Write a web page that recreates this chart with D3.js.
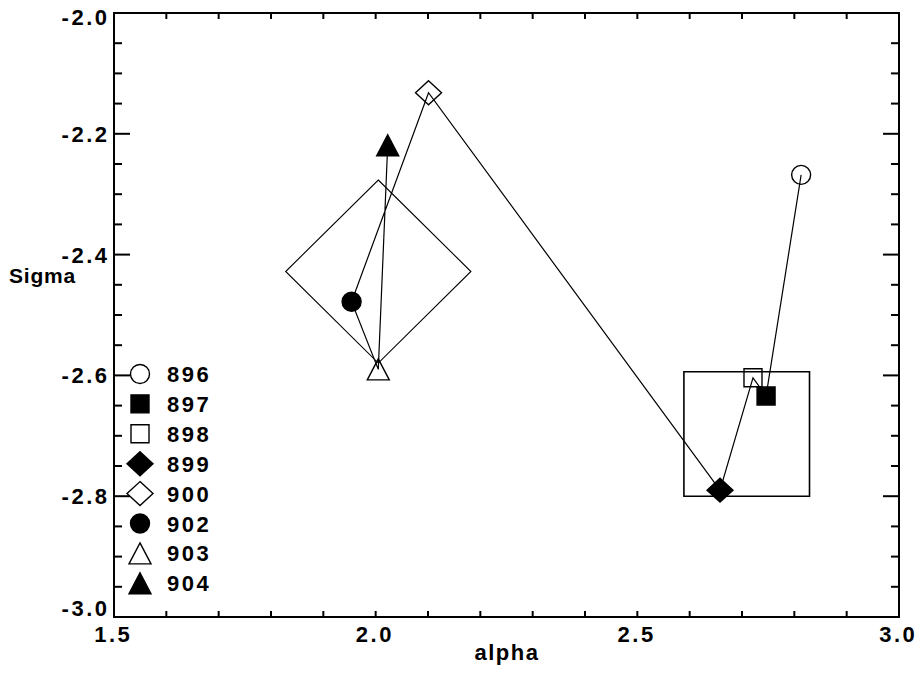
<!DOCTYPE html>
<html>
<head>
<meta charset="utf-8">
<script src="https://cdn.jsdelivr.net/npm/d3@7"></script>
<style>
  html, body { margin: 0; padding: 0; background: #fff; }
  svg { display: block; }
  text { font-family: "Liberation Sans", Arial, sans-serif; font-weight: bold; fill: #000; }
</style>
</head>
<body>
<svg id="chart" width="920" height="677"></svg>
<script>
// Run identifiers and their fitted (alpha, Sigma) pairs, in run order
const runIds   = ["896", "897", "898", "899", "900", "902", "903", "904"];
const alphaVals = [2.813, 2.746, 2.721, 2.658, 2.101, 1.954, 2.005, 2.023];
const sigmaVals = [-2.268, -2.634, -2.604, -2.790, -2.132, -2.478, -2.590, -2.219];

// Marker used for each run
const runSymbol = ["circle", "square", "square", "diamond", "diamond", "circle", "triangle", "triangle"];
const runFilled = [false, true, false, true, false, true, false, true];

// Group summaries: centre and spread in each direction
const groupShape = ["diamond", "square"];
const groupAlpha = [2.005, 2.709];
const groupSigma = [-2.428, -2.697];
const groupAlphaSpread = [0.177, 0.12];
const groupSigmaSpread = [0.1515, 0.103];

// Axis ticks
const xTickValues = [1.5, 2.0, 2.5, 3.0];
const xTickLabels = ["1.5", "2.0", "2.5", "3.0"];
const yTickValues = [-2.0, -2.2, -2.4, -2.6, -2.8, -3.0];
const yTickLabels = ["-2.0", "-2.2", "-2.4", "-2.6", "-2.8", "-3.0"];

(function draw() {
  const svg = d3.select("#chart");
  const pLeft = 114, pRight = 899, pTop = 13, pBottom = 617;

  const x = d3.scaleLinear().domain([1.5, 3.0]).range([pLeft, pRight]);
  const y = d3.scaleLinear().domain([-2.0, -3.0]).range([pTop, pBottom]);

  // Frame
  svg.append("rect")
    .attr("x", pLeft).attr("y", pTop)
    .attr("width", pRight - pLeft).attr("height", pBottom - pTop)
    .attr("fill", "none").attr("stroke", "#000").attr("stroke-width", 2);

  // Minor/major ticks on all four sides
  const xMinor = d3.range(16).map(i => 1.5 + i * 0.1);
  const yMinor = d3.range(21).map(i => -2.0 - i * 0.05);
  const isMajorY = v => Math.abs(Math.round(v * 5) - v * 5) < 1e-6;

  const ticks = svg.append("g").attr("stroke", "#000").attr("stroke-width", 2);
  xMinor.forEach(v => {
    ticks.append("line").attr("x1", x(v)).attr("x2", x(v)).attr("y1", pBottom).attr("y2", pBottom - 6);
    ticks.append("line").attr("x1", x(v)).attr("x2", x(v)).attr("y1", pTop).attr("y2", pTop + 6);
  });
  yMinor.forEach(v => {
    const len = isMajorY(v) ? 16 : 8;
    ticks.append("line").attr("y1", y(v)).attr("y2", y(v)).attr("x1", pLeft).attr("x2", pLeft + len);
    ticks.append("line").attr("y1", y(v)).attr("y2", y(v)).attr("x1", pRight).attr("x2", pRight - len);
  });

  // Tick labels
  const ls = 2.5;
  svg.append("g").selectAll("text").data(xTickValues).join("text")
    .attr("x", d => x(d) + ls / 2 - 2)
    .attr("y", 642)
    .attr("text-anchor", "middle")
    .attr("font-size", 22)
    .attr("letter-spacing", ls)
    .text((d, i) => xTickLabels[i]);

  // End labels are pulled inward so they stay within the frame's height
  const yLabelBaseline = (d, i) => {
    const base = y(d) + 8;
    if (i === 0) return base + 4;
    if (i === yTickValues.length - 1) return base - 9;
    return base;
  };
  svg.append("g").selectAll("text").data(yTickValues).join("text")
    .attr("x", 107 + ls)
    .attr("y", yLabelBaseline)
    .attr("text-anchor", "end")
    .attr("font-size", 22)
    .attr("letter-spacing", ls)
    .text((d, i) => yTickLabels[i]);

  // Axis titles
  svg.append("text").attr("x", 507).attr("y", 660).attr("text-anchor", "middle")
    .attr("font-size", 22).attr("letter-spacing", 1.5).text("alpha");
  svg.append("text").attr("x", 9).attr("y", 283).attr("text-anchor", "start")
    .attr("font-size", 21).attr("letter-spacing", 0.8).text("Sigma");

  // Group summary shapes, drawn in data units
  const groups = groupShape.map((s, i) => ({
    shape: s, a: groupAlpha[i], s0: groupSigma[i],
    da: groupAlphaSpread[i], ds: groupSigmaSpread[i]
  }));
  svg.append("g").selectAll("path").data(groups).join("path")
    .attr("fill", "none").attr("stroke", "#000")
    .attr("stroke-width", d => d.shape === "square" ? 1.6 : 1.1)
    .attr("d", d => {
      const cx = x(d.a), cy = y(d.s0);
      const hx = x(d.a + d.da) - cx, hy = y(d.s0 - d.ds) - cy;
      if (d.shape === "square") {
        return `M${cx - hx},${cy - hy}H${cx + hx}V${cy + hy}H${cx - hx}Z`;
      }
      return `M${cx},${cy - hy}L${cx + hx},${cy}L${cx},${cy + hy}L${cx - hx},${cy}Z`;
    });

  // Trajectory through the runs
  const runs = runIds.map((id, i) => ({
    id, a: alphaVals[i], s: sigmaVals[i], sym: runSymbol[i], filled: runFilled[i]
  }));
  svg.append("path").datum(runs)
    .attr("fill", "none").attr("stroke", "#000").attr("stroke-width", 1.2)
    .attr("d", d3.line().x(d => x(d.a)).y(d => y(d.s)));

  // Marker outlines centred on a point
  function markerPath(sym, cx, cy) {
    switch (sym) {
      case "circle": {
        const r = 9.5;
        return `M${cx + r},${cy}A${r},${r} 0 1,1 ${cx - r},${cy}A${r},${r} 0 1,1 ${cx + r},${cy}Z`;
      }
      case "square": {
        const h = 9;
        return `M${cx - h},${cy - h}H${cx + h}V${cy + h}H${cx - h}Z`;
      }
      case "diamond": {
        const w = 13, h = 12;
        return `M${cx},${cy - h}L${cx + w},${cy}L${cx},${cy + h}L${cx - w},${cy}Z`;
      }
      case "triangle": {
        const w = 11, h = 10.5;
        return `M${cx},${cy - h}L${cx + w},${cy + h}L${cx - w},${cy + h}Z`;
      }
    }
  }

  svg.append("g").selectAll("path").data(runs).join("path")
    .attr("d", d => markerPath(d.sym, x(d.a), y(d.s)))
    .attr("fill", d => d.filled ? "#000" : "none")
    .attr("stroke", "#000").attr("stroke-width", 1.4);

  // Legend
  const legX = 140, legY0 = 374, legStep = 29.9;
  const leg = svg.append("g").selectAll("g").data(runs).join("g");
  leg.append("path")
    .attr("d", (d, i) => markerPath(d.sym, legX, legY0 + i * legStep))
    .attr("fill", d => d.filled ? "#000" : "#fff")
    .attr("stroke", "#000").attr("stroke-width", 1.4);
  leg.append("text")
    .attr("x", 167).attr("y", (d, i) => legY0 + i * legStep + 8)
    .attr("font-size", 22).attr("letter-spacing", ls)
    .text(d => d.id);
})();
</script>
</body>
</html>
